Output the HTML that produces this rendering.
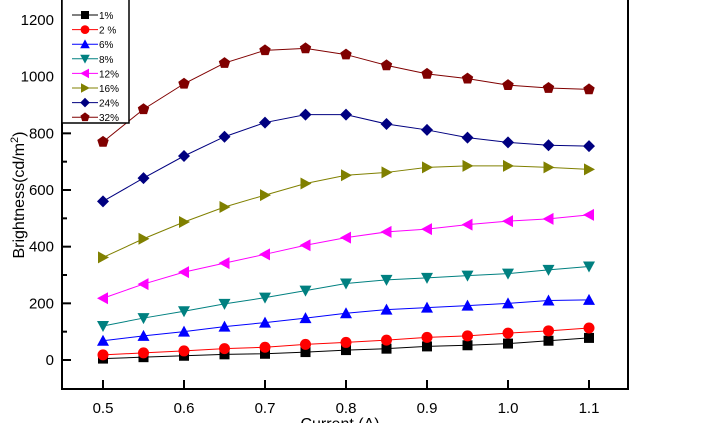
<!DOCTYPE html>
<html><head><meta charset="utf-8"><style>
body{margin:0;background:#fff;width:701px;height:423px;overflow:hidden}
svg{font-family:"Liberation Sans",Arial,sans-serif}
</style></head><body>
<svg id="c" width="701" height="423"></svg>
<script>
const xValues=[0.5,0.55,0.6,0.65,0.7,0.75,0.8,0.85,0.9,0.95,1.0,1.05,1.1];
const xTicks=[0.5,0.6,0.7,0.8,0.9,1.0,1.1];
const xTickLabels=["0.5","0.6","0.7","0.8","0.9","1.0","1.1"];
const yTicks=[0,200,400,600,800,1000,1200];
const yMinorTicks=[100,300,500,700,900,1100];
const seriesNames=["1%","2 %","6%","8%","12%","16%","24%","32%"];
const s1=[5,10,15,20,22,28,35,40,48,52,58,68,78];
const s2=[18,25,32,40,45,55,62,70,80,85,95,103,113];
const s6=[68,85,100,118,132,148,165,178,185,192,200,210,212];
const s8=[120,148,172,198,220,245,270,283,290,298,305,318,330];
const s12=[218,268,310,342,373,405,432,452,462,478,490,498,512];
const s16=[362,428,487,540,582,623,652,662,680,685,685,680,673];
const s24=[560,642,720,788,838,866,866,833,812,785,768,758,755];
const s32=[770,885,975,1048,1093,1100,1078,1040,1010,993,970,960,955];
const series=[s1,s2,s6,s8,s12,s16,s24,s32];
const colors=["#000","#f00","#00f","#008080","#f0f","#808000","#000080","#800000"];
const shapes=["square","circle","up","down","left","right","diamond","pentagon"];
const NS="http://www.w3.org/2000/svg";
const svg=document.getElementById('c');
const X=v=>103+(v-0.5)*810;
const Y=v=>360-v*0.28333;
function mk(t,a,p){const e=document.createElementNS(NS,t);for(const k in a)e.setAttribute(k,a[k]);(p||svg).appendChild(e);return e;}
function marker(shape,x,y,c,g){
  let pts;
  if(shape==="square")return mk('rect',{x:x-5,y:y-5,width:10,height:10,fill:c},g);
  if(shape==="circle")return mk('circle',{cx:x,cy:y,r:5.5,fill:c},g);
  if(shape==="up")pts=[[0,-6],[6,5],[-6,5]];
  if(shape==="down")pts=[[0,6],[6,-5],[-6,-5]];
  if(shape==="left")pts=[[-6,0],[5,-6],[5,6]];
  if(shape==="right")pts=[[6,0],[-5,-6],[-5,6]];
  if(shape==="diamond")pts=[[0,-6],[6,0],[0,6],[-6,0]];
  if(shape==="pentagon")pts=[0,1,2,3,4].map(i=>[6*Math.sin(i*1.2566),-6*Math.cos(i*1.2566)]);
  return mk('polygon',{points:pts.map(p=>(x+p[0])+','+(y+p[1])).join(' '),fill:c},g);
}
const ax=mk('g',{});

mk('rect',{x:62,y:-2,width:566,height:391,fill:'none',stroke:'#000','stroke-width':2},ax);
xTicks.forEach((v,i)=>{
  mk('line',{x1:X(v),x2:X(v),y1:389,y2:380,stroke:'#000','stroke-width':2},ax);
  const t=mk('text',{x:X(v),y:413,'text-anchor':'middle','font-size':15},ax);t.textContent=xTickLabels[i];
  
});
yTicks.forEach(v=>{
  mk('line',{x1:62,x2:71,y1:Y(v),y2:Y(v),stroke:'#000','stroke-width':2},ax);
  const t=mk('text',{x:54,y:Y(v)+5,'text-anchor':'end','font-size':15},ax);t.textContent=v;
  
});
yMinorTicks.forEach(v=>{
  mk('line',{x1:62,x2:67,y1:Y(v),y2:Y(v),stroke:'#000','stroke-width':2},ax);
});
const xt=mk('text',{x:340,y:429,'text-anchor':'middle','font-size':16});xt.textContent='Current (A)';

const yt=mk('text',{x:0,y:0,'text-anchor':'middle','font-size':16,transform:'translate(24,195) rotate(-90)'});
yt.innerHTML='Brightness(cd/m<tspan font-size="11" dy="-6">2</tspan><tspan dy="6">)</tspan>';

series.forEach((s,i)=>{
  const g=mk('g',{});
  
  
  mk('polyline',{points:s.map((v,j)=>X(xValues[j])+','+Y(v)).join(' '),fill:'none',stroke:colors[i],'stroke-width':1},g);
  s.forEach((v,j)=>marker(shapes[i],X(xValues[j]),Y(v),colors[i],g));
});
const lg=mk('g',{});

mk('rect',{x:62,y:-2,width:67,height:125,fill:'#fff',stroke:'#000','stroke-width':1.5},lg);
seriesNames.forEach((n,i)=>{
  const y=15+i*14.6;
  const e=mk('g',{},lg);
  
  mk('line',{x1:72,x2:98,y1:y,y2:y,stroke:colors[i],'stroke-width':1},e);
  marker(shapes[i],85,y,colors[i],e).setAttribute('transform','translate(85,'+y+') scale(0.8) translate(-85,-'+y+')');
  const t=mk('text',{x:99,y:y+4,'font-size':10},e);t.textContent=n;
});
</script>
</body></html>
